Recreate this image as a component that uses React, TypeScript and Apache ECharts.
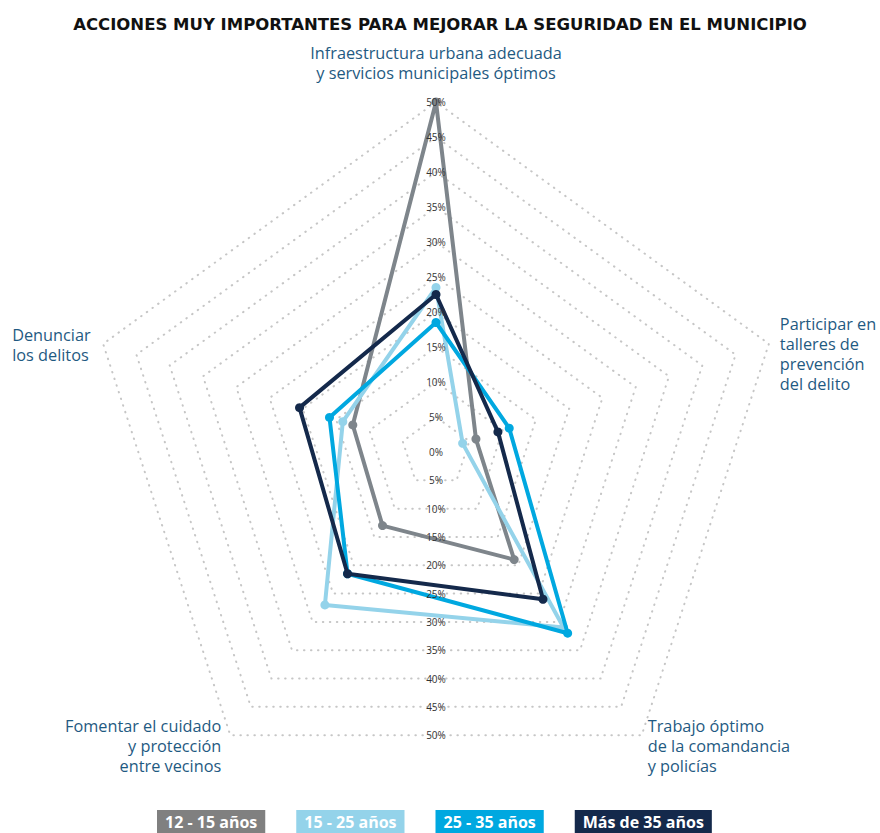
import React, { useEffect, useRef } from "react";
import * as echarts from "echarts";

const TITLE = "ACCIONES MUY IMPORTANTES PARA MEJORAR LA SEGURIDAD EN EL MUNICIPIO";

// indicators in ECharts order (top first, then counter-clockwise)
const indicatorNames = [
  "Infraestructura urbana adecuada\ny servicios municipales óptimos",
  "Denunciar\nlos delitos",
  "Fomentar el cuidado\ny protección\nentre vecinos",
  "Trabajo óptimo\nde la comandancia\ny policías",
  "Participar en\ntalleres de\nprevención\ndel delito",
];

const seriesNames = ["12 - 15 años", "15 - 25 años", "25 - 35 años", "Más de 35 años"];
const seriesColors = ["#7e858b", "#94d3ea", "#00a8e0", "#14294b"];
const legendColors = ["#808080", "#94d3ea", "#00a8e0", "#14294b"];

const values12to15 = [50, 12.5, 13, 19, 6];
const values15to25 = [23.5, 14, 27, 31, 4];
const values25to35 = [18.5, 16, 21.5, 32, 11];
const valuesMas35 = [22.5, 20.5, 21.5, 26, 9.3];

const upTicks = [0, 5, 10, 15, 20, 25, 30, 35, 40, 45, 50];
const downTicks = [5, 10, 15, 20, 25, 30, 35, 40, 45, 50];

const MAX = 50;
const CX = 436;
const CY = 452;
const R = 350;
const LABEL_COLOR = "#1f5a82";
const FONT = "'Open Sans', 'Noto Sans', sans-serif";

function vertex(i: number) {
  const ang = ((90 + i * 72) * Math.PI) / 180;
  return { x: CX + R * Math.cos(ang), y: CY - R * Math.sin(ang) };
}

export default function App() {
  const ref = useRef<HTMLDivElement>(null);
  useEffect(() => {
    if (!ref.current) return;
    const chart = echarts.init(ref.current, undefined, { renderer: "svg" });
    const allValues = [values12to15, values15to25, values25to35, valuesMas35];

    const tickStyle = { fill: "#333", fontSize: 10, fontFamily: FONT, fontWeight: 500 };
    const graphics: any[] = [];
    upTicks.forEach((v) => {
      graphics.push({
        type: "text",
        x: CX,
        y: CY - (v / MAX) * R,
        z: 10,
        style: { ...tickStyle, text: v + "%", align: "center", verticalAlign: "middle" },
      });
    });
    downTicks.forEach((v) => {
      graphics.push({
        type: "text",
        x: CX,
        y: CY + (v / MAX) * R * Math.cos(Math.PI / 5),
        z: 10,
        style: { ...tickStyle, text: v + "%", align: "center", verticalAlign: "middle" },
      });
    });

    const nameStyle = { fill: LABEL_COLOR, fontSize: 16.3, fontFamily: FONT, lineHeight: 20 };
    const v0 = vertex(0), v1 = vertex(1), v2 = vertex(2), v3 = vertex(3), v4 = vertex(4);
    graphics.push({
      type: "text", x: v0.x, y: v0.y - 19,
      style: { ...nameStyle, text: indicatorNames[0], align: "center", verticalAlign: "bottom" },
    });
    graphics.push({
      type: "text", x: v1.x - 91, y: v1.y + 1,
      style: { ...nameStyle, text: indicatorNames[1], align: "left", verticalAlign: "middle" },
    });
    graphics.push({
      type: "text", x: v2.x - 9, y: v2.y - 19,
      style: { ...nameStyle, text: indicatorNames[2], align: "right", verticalAlign: "top" },
    });
    graphics.push({
      type: "text", x: v3.x + 6, y: v3.y - 19,
      style: { ...nameStyle, text: indicatorNames[3], align: "left", verticalAlign: "top" },
    });
    graphics.push({
      type: "text", x: v4.x + 11, y: v4.y + 10,
      style: { ...nameStyle, text: indicatorNames[4], align: "left", verticalAlign: "middle" },
    });

    chart.setOption({
      animation: false,
      backgroundColor: "#ffffff",
      title: {
        text: TITLE,
        left: "center",
        top: 11,
        textStyle: { color: "#111", fontSize: 16.5, fontWeight: "bold", fontFamily: "'DejaVu Sans', sans-serif" },
      },
      legend: {
        top: 805,
        left: 147,
        itemGap: 26,
        itemWidth: 0,
        itemHeight: 0,
        selectedMode: false,
        data: seriesNames.map((n, i) => ({
          name: n,
          icon: "rect",
          textStyle: {
            color: "#fff",
            backgroundColor: legendColors[i],
            fontWeight: "bold",
            fontSize: 16,
            fontFamily: FONT,
            padding: [4, 8, 3, 8],
          },
        })),
      },
      radar: {
        center: [CX, CY],
        radius: R,
        startAngle: 90,
        splitNumber: 10,
        shape: "polygon",
        indicator: indicatorNames.map((n) => ({ name: n, min: 0, max: MAX })),
        axisName: { show: false },
        axisLine: { show: false },
        axisTick: { show: false },
        axisLabel: { show: false },
        splitArea: { show: false },
        splitLine: {
          lineStyle: { color: "#c6c6c6", width: 2, type: [0.5, 6.5], cap: "round" },
        },
      },
      series: seriesNames.map((n, i) => ({
        name: n,
        type: "radar",
        symbol: "circle",
        symbolSize: 9,
        itemStyle: { color: seriesColors[i] },
        lineStyle: { color: seriesColors[i], width: 4 },
        data: [{ name: n, value: allValues[i] }],
        z: 2 + i,
      })),
      graphic: graphics,
    });
    return () => chart.dispose();
  }, []);
  return (
    <div
      ref={ref}
      style={{ position: "fixed", left: 0, top: 0, width: 880, height: 833 }}
    />
  );
}
